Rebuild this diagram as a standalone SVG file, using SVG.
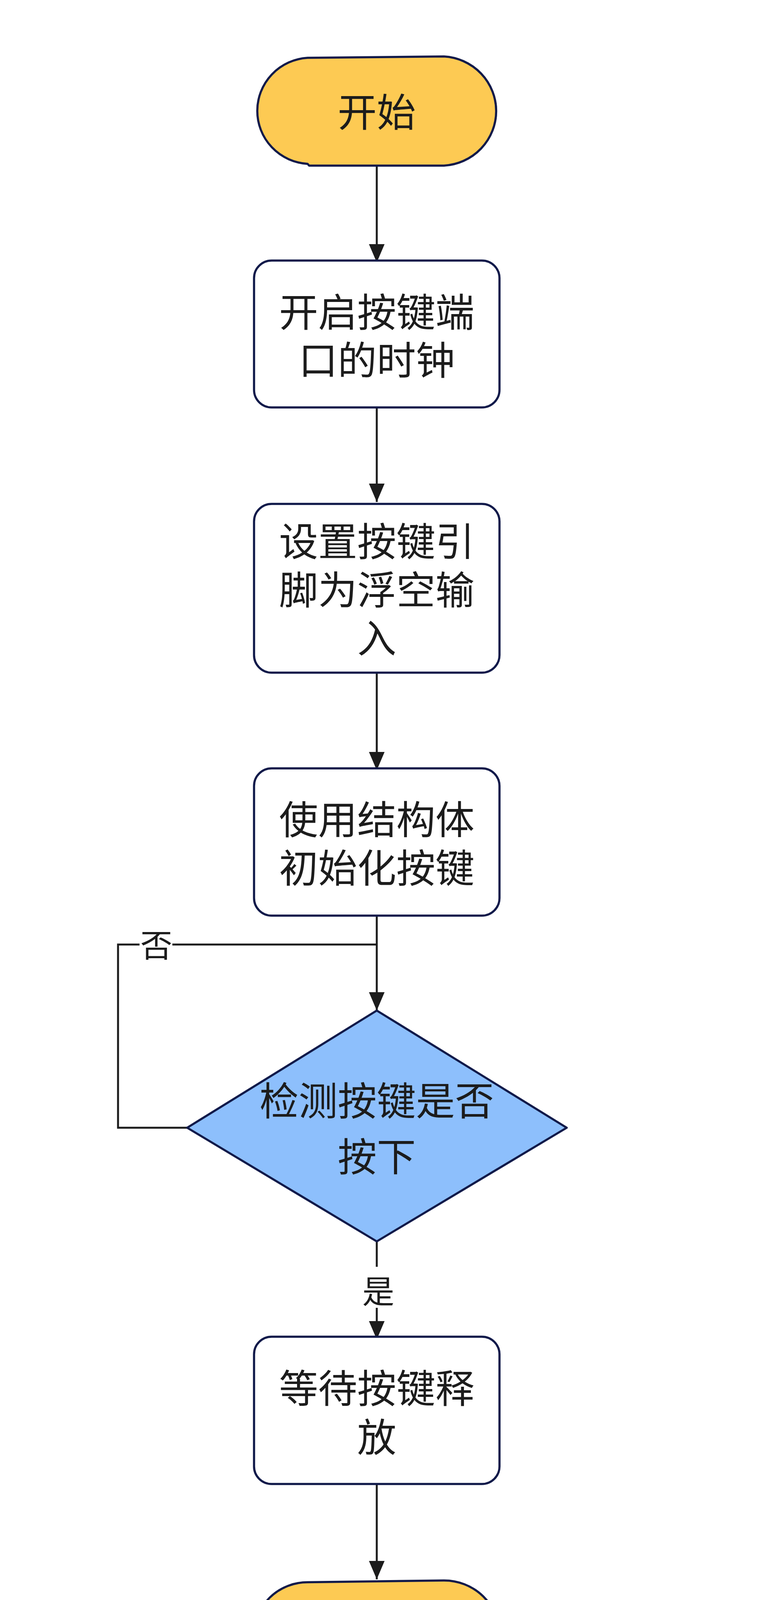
<svg xmlns="http://www.w3.org/2000/svg" width="1942" height="4481" viewBox="0 0 1942 4481">
<defs>
<style>
.term{fill:#FDCA53;stroke:#111A4A;stroke-width:5.5;stroke-linejoin:round}
.proc{fill:#FFFFFF;stroke:#111A4A;stroke-width:5.5}
.dec{fill:#8DBFFC;stroke:#111A4A;stroke-width:5.5;stroke-linejoin:round}
.t{font-family:'Liberation Sans','Noto Sans CJK SC',sans-serif;font-size:100px;fill:#1C1C1C;text-anchor:middle}
.lbl{font-family:'Liberation Sans','Noto Sans CJK SC',sans-serif;font-size:82px;fill:#1C1C1C;text-anchor:middle}
.edge{fill:none;stroke:#1C1C1C;stroke-width:5}
</style>
<marker id="arr" markerUnits="userSpaceOnUse" markerWidth="48" markerHeight="40" refX="47" refY="20" orient="auto" viewBox="0 0 48 40">
<path d="M0,0 L47,20 L0,40 Z" fill="#1C1C1C"/>
</marker>
</defs>
<rect x="0" y="0" width="1942" height="4481" fill="#FFFFFF"/>
<g id="connectors">
<path class="edge" d="M964,424 V672" marker-end="url(#arr)"/>
<path class="edge" d="M964,1043 V1285" marker-end="url(#arr)"/>
<path class="edge" d="M964,1722 V1972" marker-end="url(#arr)"/>
<path class="edge" d="M964,2344 V2587" marker-end="url(#arr)"/>
<path class="edge" d="M479,2887 H302 V2418 H964"/>
<path class="edge" d="M964,3178 V3429" marker-end="url(#arr)"/>
<path class="edge" d="M964,3799 V4043" marker-end="url(#arr)"/>
<rect x="357" y="2378" width="84" height="78" fill="#FFFFFF"/>
<text class="lbl" x="400" y="2450">否</text>
<rect x="924" y="3243" width="86" height="105" fill="#FFFFFF"/>
<text class="lbl" x="968" y="3336">是</text>
</g>
<g id="start">
<path class="term" d="M787,148 L1136,144.5 A142,140 0 0 1 1136,424 L791,424 L787,419.5 A137,136 0 0 1 787,148 Z"/>
<text class="t" x="964" y="324">开始</text>
</g>
<g id="step1">
<rect class="proc" x="650" y="667" width="628" height="376" rx="45" ry="45"/>
<text class="t" x="964" y="836">开启按键端</text>
<text class="t" x="964" y="959">口的时钟</text>
</g>
<g id="step2">
<rect class="proc" x="650" y="1290" width="628" height="432" rx="45" ry="45"/>
<text class="t" x="964" y="1423">设置按键引</text>
<text class="t" x="964" y="1547">脚为浮空输</text>
<text class="t" x="964" y="1671">入</text>
</g>
<g id="step3">
<rect class="proc" x="650" y="1967" width="628" height="377" rx="45" ry="45"/>
<text class="t" x="964" y="2135">使用结构体</text>
<text class="t" x="964" y="2259">初始化按键</text>
</g>
<g id="decision">
<path class="dec" d="M964,2587 L1450,2887 L964,3178 L479,2887 Z"/>
<text class="t" x="964" y="2855">检测按键是否</text>
<text class="t" x="964" y="2998">按下</text>
</g>
<g id="step4">
<rect class="proc" x="650" y="3422" width="628" height="377" rx="45" ry="45"/>
<text class="t" x="964" y="3591">等待按键释</text>
<text class="t" x="964" y="3716">放</text>
</g>
<g id="end">
<path class="term" d="M787,4050.5 L1136,4046 A142,139 0 0 1 1136,4324 L791,4324 L787,4319.5 A137,134.5 0 0 1 787,4050.5 Z"/>
<text class="t" x="964" y="4223">结束</text>
</g>
</svg>
